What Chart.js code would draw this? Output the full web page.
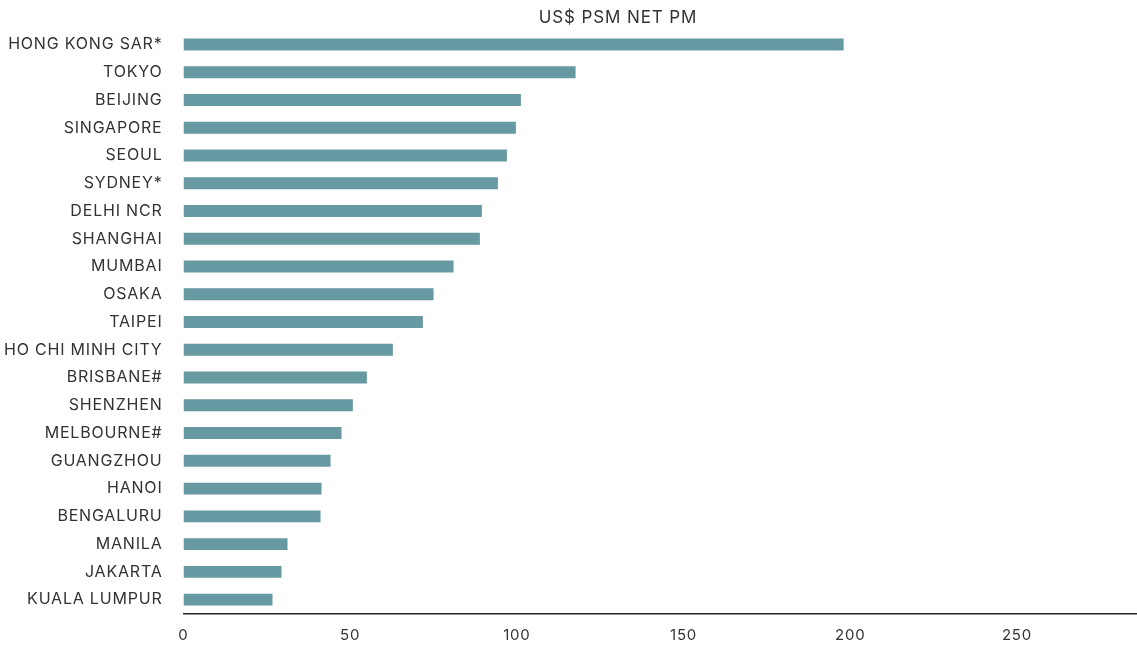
<!DOCTYPE html>
<html>
<head>
<meta charset="utf-8">
<script src="https://cdn.jsdelivr.net/npm/chart.js@4/dist/chart.umd.min.js"></script>
<style>
html,body{margin:0;padding:0;background:#fff;}
#wrap{position:relative;width:1137px;height:648px;}
</style>
</head>
<body>
<div id="wrap"><canvas id="c" width="1137" height="648"></canvas></div>
<script>
const categories = ["HONG KONG SAR*","TOKYO","BEIJING","SINGAPORE","SEOUL","SYDNEY*","DELHI NCR","SHANGHAI","MUMBAI","OSAKA","TAIPEI","HO CHI MINH CITY","BRISBANE#","SHENZHEN","MELBOURNE#","GUANGZHOU","HANOI","BENGALURU","MANILA","JAKARTA","KUALA LUMPUR"];
const rentValues = [198, 117.6, 101.2, 99.7, 97, 94.3, 89.5, 88.9, 81, 75, 71.8, 62.8, 55, 50.8, 47.4, 44.1, 41.4, 41.1, 31.2, 29.4, 26.7];
const tickValues = [0, 50, 100, 150, 200, 250];
const chartTitle = "US$ PSM NET PM";

const FONT = "Inter, 'DejaVu Sans', sans-serif";

const spacingPlugin = {
  id: 'spacing',
  beforeDraw(chart) { chart.ctx.letterSpacing = '0.8px'; }
};

const titlePlugin = {
  id: 'topTitle',
  afterDraw(chart) {
    const ctx = chart.ctx;
    ctx.save();
    ctx.letterSpacing = '0.9px';
    ctx.font = "17px " + FONT;
    ctx.fillStyle = "#333333";
    ctx.textAlign = "center";
    ctx.textBaseline = "middle";
    ctx.fillText(chartTitle, 618, 18);
    ctx.restore();
  }
};

new Chart(document.getElementById('c'), {
  type: 'bar',
  data: {
    labels: categories,
    datasets: [{
      data: rentValues,
      backgroundColor: '#6699a1',
      borderWidth: 0,
      categoryPercentage: 1,
      barPercentage: 0.43
    }]
  },
  plugins: [spacingPlugin, titlePlugin],
  options: {
    indexAxis: 'y',
    responsive: false,
    animation: false,
    layout: { padding: { top: 29, right: 0, left: 0, bottom: 0 } },
    plugins: { legend: { display: false }, tooltip: { enabled: false } },
    scales: {
      x: {
        min: 0,
        max: 286,
        grid: { display: false, drawTicks: false },
        border: { display: true, color: '#222222', width: 1.5 },
        afterBuildTicks(axis) {
          axis.ticks = tickValues.map(v => ({ value: v }));
        },
        afterFit(axis) { axis.height = 34.5; },
        ticks: {
          padding: 13,
          color: '#333333',
          font: { family: FONT, size: 15 },
          maxRotation: 0
        }
      },
      y: {
        grid: { display: false, drawTicks: false },
        border: { display: false },
        afterFit(axis) { axis.width = 183.5; },
        ticks: {
          padding: 21,
          color: '#333333',
          font: { family: FONT, size: 16 },
          autoSkip: false
        }
      }
    }
  }
});
</script>
</body>
</html>
